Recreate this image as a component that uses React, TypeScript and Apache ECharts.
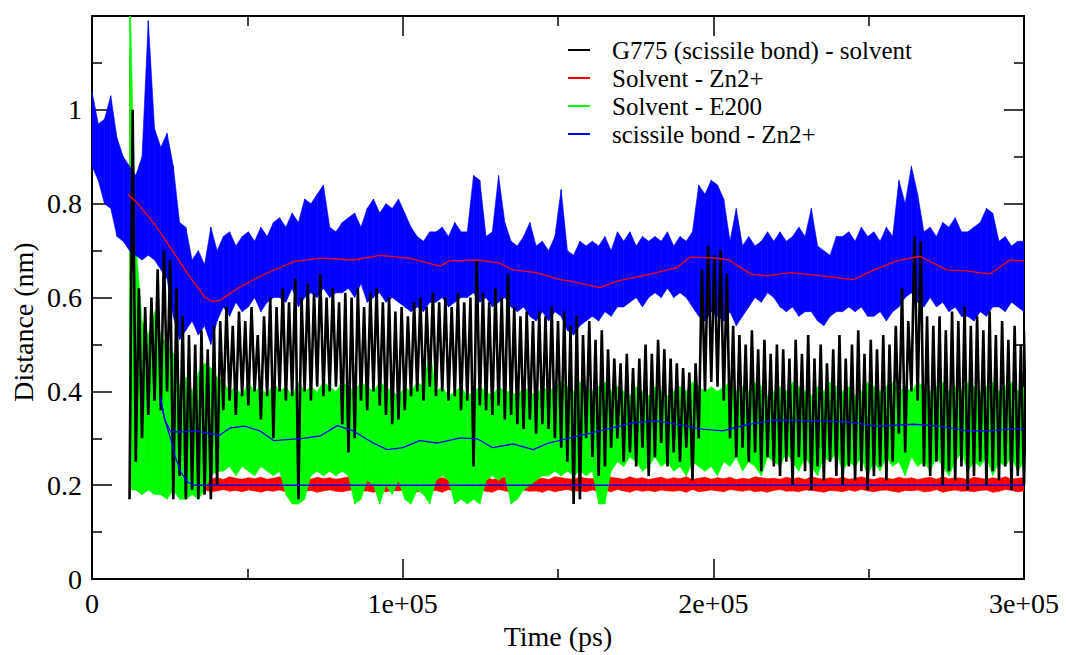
import React, { useEffect, useRef } from "react";
import * as echarts from "echarts";

// ---- data: 150 time bins over 0..3e5 ps, min/max of each noisy trace ----
// blue / black / green in hundredths of nm, red in thousandths of nm
const T_END = 300000;

const BLUE_HI = [
  104, 97, 98, 103, 94, 90, 88, 86, 90, 119,
  96, 92, 95, 88, 76, 75, 68, 70, 67, 75,
  70, 73, 74, 71, 73, 74, 72, 75, 73, 76,
  77, 75, 78, 76, 81, 80, 82, 84, 75, 74,
  76, 77, 78, 75, 79, 81, 78, 80, 79, 81,
  78, 75, 73, 72, 74, 74, 75, 73, 76, 74,
  74, 86, 85, 73, 74, 86, 76, 72, 71, 73,
  76, 71, 72, 70, 73, 83, 70, 69, 72, 71,
  72, 71, 73, 70, 74, 72, 74, 71, 73, 72,
  73, 72, 74, 71, 73, 72, 74, 84, 82, 85,
  84, 81, 72, 79, 71, 73, 71, 72, 74, 72,
  74, 72, 73, 75, 73, 79, 71, 70, 69, 73,
  73, 74, 72, 75, 73, 74, 72, 75, 73, 85,
  80, 88, 82, 74, 75, 73, 76, 75, 77, 74,
  74, 75, 76, 79, 78, 72, 73, 71, 72, 72,
];
const BLUE_LO = [
  88, 85, 80, 79, 73, 72, 70, 69, 68, 69,
  68, 66, 64, 56, 51, 53, 55, 52, 54, 50,
  55, 58, 56, 59, 57, 58, 60, 57, 59, 60,
  60, 59, 62, 58, 60, 61, 60, 62, 60, 61,
  61, 62, 60, 63, 59, 60, 61, 59, 60, 59,
  58, 57, 58, 57, 59, 59, 60, 58, 59, 60,
  60, 61, 59, 60, 58, 59, 60, 58, 57, 58,
  56, 55, 57, 55, 57, 56, 53, 52, 54, 55,
  56, 55, 57, 56, 58, 58, 59, 60, 58, 60,
  61, 60, 62, 60, 61, 60, 58, 56, 55, 57,
  56, 55, 57, 54, 56, 58, 60, 59, 61, 60,
  58, 57, 58, 56, 57, 57, 55, 54, 56, 57,
  57, 58, 57, 58, 56, 56, 57, 55, 57, 58,
  60, 61, 59, 58, 60, 58, 59, 57, 58, 56,
  56, 55, 57, 56, 58, 58, 57, 59, 58, 57,
];

const BLACK_HI = [
  null, null, null, null, null, null, 100, 62, 58, 60,
  66, 70, 68, 62, 56, 52, 50, 53, 49, 54,
  55, 58, 54, 57, 55, 58, 52, 56, 60, 58,
  62, 59, 64, 60, 63, 61, 65, 60, 62, 59,
  61, 60, 62, 58, 61, 62, 59, 60, 57, 58,
  56, 59, 60, 58, 61, 59, 60, 58, 61, 59,
  60, 68, 61, 59, 62, 60, 65, 58, 56, 57,
  55, 57, 56, 58, 55, 57, 54, 56, 52, 55,
  51, 53, 49, 47, 46, 48, 45, 47, 50, 48,
  51, 49, 47, 46, 45, 44, 46, 66, 71, 69,
  70, 65, 54, 52, 50, 53, 49, 51, 48, 50,
  49, 47, 51, 48, 52, 47, 50, 46, 49, 52,
  47, 50, 53, 48, 51, 49, 52, 50, 54, 62,
  55, 73, 72, 56, 54, 56, 53, 57, 55, 58,
  54, 56, 53, 57, 52, 55, 51, 54, 50, 53,
];
const BLACK_LO = [
  null, null, null, null, null, null, 17, 25, 30, 35,
  38, 36, 40, 17, 22, 17, 19, 17, 18, 17,
  20, 36, 38, 35, 39, 37, 40, 34, 39, 30,
  40, 38, 39, 17, 40, 38, 41, 39, 40, 41,
  33, 27, 30, 38, 36, 40, 37, 35, 33, 34,
  36, 39, 40, 38, 41, 39, 40, 38, 39, 36,
  38, 24, 37, 36, 35, 37, 34, 35, 33, 32,
  34, 31, 33, 32, 30, 28, 25, 16, 17, 30,
  26, 22, 24, 28, 30, 25, 27, 24, 28, 22,
  26, 29, 24, 27, 25, 28, 21, 30, 40, 42,
  41, 38, 30, 26, 28, 25, 27, 23, 26, 24,
  22, 25, 20, 26, 23, 19, 24, 21, 25, 22,
  20, 24, 21, 23, 19, 22, 24, 21, 25, 31,
  27, 40, 38, 24, 22, 25, 20, 23, 21, 24,
  19, 22, 25, 20, 23, 21, 24, 19, 22, 20,
];

const GREEN_HI = [
  null, null, null, null, null, null, 130, 72, 55, 52,
  57, 52, 50, 48, 41, 43, 40, 44, 46, 45,
  43, 42, 40, 41, 39, 42, 40, 41, 39, 42,
  40, 41, 39, 42, 40, 41, 40, 42, 41, 40,
  42, 41, 40, 42, 41, 40, 42, 41, 40, 39,
  41, 40, 42, 41, 49, 40, 41, 39, 40, 41,
  39, 40, 41, 40, 39, 41, 40, 40, 39, 41,
  40, 39, 41, 40, 41, 42, 41, 40, 42, 41,
  40, 41, 42, 40, 41, 40, 39, 41, 40, 39,
  41, 40, 39, 40, 41, 40, 42, 41, 40, 41,
  40, 41, 42, 40, 41, 40, 42, 41, 39, 40,
  41, 40, 42, 41, 40, 39, 41, 40, 42, 41,
  40, 41, 39, 40, 42, 41, 40, 41, 42, 40,
  41, 40, 42, 41, 40, 41, 42, 40, 41, 40,
  42, 41, 40, 41, 42, 40, 41, 42, 40, 41,
];
const GREEN_LO = [
  null, null, null, null, null, null, 19, 19, 18, 19,
  18, 18, 17, 19, 17, 17, 18, 17, 19, 22,
  23, 23, 24, 22, 24, 23, 22, 24, 23, 22,
  23, 18, 16, 16, 17, 22, 23, 22, 23, 22,
  23, 22, 16, 17, 21, 20, 16, 20, 18, 21,
  17, 16, 19, 18, 16, 21, 22, 21, 16, 17,
  16, 17, 16, 21, 22, 21, 22, 16, 17, 19,
  20, 21, 22, 22, 23, 22, 23, 22, 23, 22,
  23, 16, 16, 23, 25, 24, 26, 25, 23, 24,
  26, 24, 25, 23, 24, 22, 25, 24, 23, 24,
  22, 25, 24, 26, 23, 25, 24, 22, 26, 25,
  24, 27, 25, 23, 26, 24, 22, 26, 25, 27,
  23, 25, 24, 26, 22, 25, 23, 26, 24, 25,
  22, 26, 24, 25, 23, 26, 24, 22, 25, 27,
  23, 25, 24, 26, 22, 25, 24, 26, 23, 25,
];

const RED_HI = [
  null, null, null, null, null, null, 1120, 550, 500, 480,
  450, 420, 400, 350, 300, 250, 216, 213, 217, 214,
  216, 212, 218, 215, 213, 216, 214, 217, 213, 215,
  218, 214, 212, 216, 215, 213, 217, 214, 216, 213,
  215, 218, 212, 216, 214, 215, 217, 213, 216, 214,
  212, 217, 215, 213, 218, 214, 216, 212, 215, 217,
  213, 216, 214, 218, 212, 215, 217, 213, 216, 214,
  217, 213, 215, 212, 218, 216, 214, 213, 217, 215,
  214, 216, 212, 217, 215, 213, 218, 214, 216, 212,
  215, 217, 213, 216, 214, 218, 212, 215, 217, 213,
  216, 214, 217, 212, 215, 213, 218, 216, 214, 215,
  213, 217, 214, 216, 212, 218, 215, 213, 216, 214,
  217, 213, 215, 218, 214, 212, 216, 215, 213, 217,
  214, 216, 212, 215, 217, 213, 218, 214, 216, 215,
  212, 217, 215, 213, 216, 214, 218, 213, 215, 216,
];
const RED_LO = [
  null, null, null, null, null, null, 500, 300, 280, 250,
  220, 200, 190, 190, 188, 188, 189, 187, 190, 186,
  188, 191, 187, 189, 186, 190, 188, 185, 189, 187,
  190, 186, 188, 191, 187, 189, 185, 188, 190, 187,
  186, 189, 191, 187, 188, 185, 190, 186, 189, 188,
  191, 187, 186, 190, 188, 189, 185, 191, 187, 188,
  189, 186, 190, 187, 185, 191, 188, 186, 189, 190,
  187, 188, 185, 190, 186, 189, 191, 187, 188, 186,
  190, 187, 189, 186, 191, 188, 185, 190, 187, 189,
  186, 190, 188, 187, 189, 185, 191, 186, 188, 190,
  188, 186, 191, 189, 187, 190, 186, 188, 185, 189,
  191, 187, 188, 186, 190, 189, 187, 185, 189, 188,
  186, 190, 187, 191, 188, 186, 189, 190, 187, 185,
  189, 188, 190, 186, 187, 191, 185, 188, 190, 187,
  188, 186, 189, 190, 185, 187, 191, 189, 186, 188,
];

// running averages (time in ps, distance in nm)
const BLUE_AVG_T = [11500, 14800, 20300, 25400, 30900, 36400, 38600, 41200, 47000, 52500, 57600, 65300, 73700, 84000, 92700, 102000, 112000, 115000, 124000, 131000, 135500, 143000, 150600, 154000, 163500, 169000, 179600, 188000, 192500, 201000, 205000, 212000, 217000, 224700, 235000, 245000, 251000, 259000, 266500, 275000, 281600, 289000, 295500, 300000];
const BLUE_AVG_V = [0.82, 0.8, 0.755, 0.705, 0.65, 0.6, 0.592, 0.594, 0.62, 0.64, 0.656, 0.677, 0.684, 0.68, 0.69, 0.684, 0.667, 0.678, 0.68, 0.674, 0.659, 0.653, 0.638, 0.635, 0.621, 0.635, 0.65, 0.663, 0.686, 0.684, 0.68, 0.65, 0.646, 0.653, 0.646, 0.638, 0.657, 0.678, 0.688, 0.659, 0.657, 0.65, 0.68, 0.678];

const GREEN_AVG_T = [21900, 23400, 25300, 30000, 33000, 41200, 44400, 49000, 54000, 58600, 68000, 73400, 79000, 84000, 90500, 95000, 100000, 105500, 111000, 118600, 124000, 129000, 135500, 142000, 147000, 154000, 163500, 174000, 181600, 190000, 195500, 203000, 211500, 220000, 232000, 243000, 253000, 264600, 273000, 281600, 288000, 296500, 300000];
const GREEN_AVG_V = [0.39, 0.34, 0.314, 0.314, 0.316, 0.307, 0.322, 0.326, 0.316, 0.295, 0.3, 0.305, 0.327, 0.316, 0.29, 0.276, 0.28, 0.295, 0.29, 0.301, 0.299, 0.28, 0.288, 0.276, 0.29, 0.301, 0.316, 0.333, 0.337, 0.328, 0.32, 0.316, 0.33, 0.339, 0.337, 0.335, 0.326, 0.33, 0.326, 0.316, 0.316, 0.32, 0.32];

const RED_AVG_T = [21900, 23400, 25300, 26700, 28600, 30900, 33000, 60000, 100000, 150000, 200000, 250000, 300000];
const RED_AVG_V = [0.39, 0.34, 0.3, 0.263, 0.228, 0.206, 0.2, 0.2, 0.2, 0.2, 0.2, 0.2, 0.2];

const NAMES = ["G775 (scissile bond) - solvent", "Solvent - Zn2+", "Solvent - E200", "scissile bond - Zn2+"];
const X_TICKS = { min: 0, max: 300000, step: 100000 };
const Y_TICKS = { min: 0, max: 1.2, step: 0.2 };

const FONT = "Liberation Serif, Times New Roman, serif";

const binTime = (i: number, n: number) => (i * T_END) / (n - 1);

// zigzag trace: bin minimum then bin maximum
function trace(lo: (number | null)[], hi: (number | null)[], unit: number) {
  const out: number[][] = [];
  const half = T_END / (lo.length - 1) / 2;
  for (let i = 0; i < lo.length; i++) {
    const a = lo[i];
    const b = hi[i];
    if (a == null || b == null) continue;
    out.push([binTime(i, lo.length), a / unit]);
    out.push([binTime(i, lo.length) + half, b / unit]);
  }
  return out;
}

// min/max envelope segments: [t0, lo0, hi0, t1, lo1, hi1]
function envelope(lo: (number | null)[], hi: (number | null)[], unit: number) {
  const out: number[][] = [];
  for (let i = 0; i + 1 < lo.length; i++) {
    const a = lo[i], b = hi[i], c = lo[i + 1], d = hi[i + 1];
    if (a == null || b == null || c == null || d == null) continue;
    out.push([binTime(i, lo.length), a / unit, b / unit, binTime(i + 1, lo.length), c / unit, d / unit]);
  }
  return out;
}

function pairs(t: number[], v: number[]) {
  return t.map((x, i) => [x, v[i]]);
}

export default function App() {
  const ref = useRef<HTMLDivElement>(null);
  useEffect(() => {
    if (!ref.current) return;
    const chart = echarts.init(ref.current, undefined, { renderer: "svg" });
    const tickStyle = { color: "#000", width: 1.5 };
    const axisCommon = {
      axisLine: { show: true, onZero: false, lineStyle: { color: "#000", width: 2 } },
      axisTick: { show: true, inside: true, length: 20, lineStyle: tickStyle },
      minorTick: { show: true, splitNumber: 2, length: 10, lineStyle: tickStyle },
      splitLine: { show: false },
      minorSplitLine: { show: false },
    };
    const line = (name: string, data: number[][], color: string, width: number) => ({
      type: "line",
      name,
      data,
      showSymbol: false,
      symbol: "none",
      silent: true,
      clip: true,
      lineStyle: { color, width },
      itemStyle: { color },
      emphasis: { disabled: true },
    });
    const band = (name: string, lo: (number | null)[], hi: (number | null)[], unit: number, color: string) => ({
      type: "custom",
      name,
      data: envelope(lo, hi, unit),
      silent: true,
      clip: true,
      itemStyle: { color },
      encode: { x: [0, 3], y: [1, 2, 4, 5] },
      renderItem: (_params: any, api: any) => {
        const p0 = api.coord([api.value(0), api.value(1)]);
        const p1 = api.coord([api.value(3), api.value(4)]);
        const p2 = api.coord([api.value(3), api.value(5)]);
        const p3 = api.coord([api.value(0), api.value(2)]);
        return {
          type: "polygon",
          shape: { points: [p0, p1, p2, p3] },
          style: { fill: color, stroke: color, lineWidth: 0.6 },
        };
      },
    });
    chart.setOption({
      animation: false,
      backgroundColor: "#fff",
      grid: { left: 92, right: 42, top: 16, bottom: 70, containLabel: false },
      legend: {
        data: NAMES,
        orient: "vertical",
        left: 568,
        top: 36,
        padding: 0,
        itemGap: 0,
        itemWidth: 22,
        itemHeight: 2,
        icon: "rect",
        selectedMode: false,
        textStyle: { fontSize: 25, lineHeight: 28, fontFamily: FONT, color: "#000", padding: [0, 0, 0, 17] },
      },
      graphic: [
        {
          type: "text",
          x: 23,
          y: 322,
          rotation: Math.PI / 2,
          style: {
            text: "Distance (nm)",
            fontSize: 28,
            fontFamily: FONT,
            fill: "#000",
            align: "center",
            verticalAlign: "middle",
          },
        },
      ],
      xAxis: [
        {
          type: "value",
          position: "bottom",
          min: X_TICKS.min,
          max: X_TICKS.max,
          interval: X_TICKS.step,
          ...axisCommon,
          axisLabel: {
            color: "#000",
            fontSize: 28,
            fontFamily: FONT,
            margin: 10,
            formatter: (v: number) => (v === 0 ? "0" : `${v / 100000}e+05`),
          },
          name: "Time (ps)",
          nameLocation: "middle",
          nameGap: 38,
          nameTextStyle: { color: "#000", fontSize: 28, fontFamily: FONT },
        },
        {
          type: "value",
          position: "top",
          min: X_TICKS.min,
          max: X_TICKS.max,
          interval: X_TICKS.step,
          ...axisCommon,
          axisLabel: { show: false },
        },
      ],
      yAxis: [
        {
          type: "value",
          position: "left",
          min: Y_TICKS.min,
          max: Y_TICKS.max,
          interval: Y_TICKS.step,
          ...axisCommon,
          axisLabel: {
            color: "#000",
            fontSize: 28,
            fontFamily: FONT,
            margin: 10,
            showMaxLabel: false,
            formatter: (v: number) => String(+v.toFixed(1)),
          },
        },
        {
          type: "value",
          position: "right",
          min: Y_TICKS.min,
          max: Y_TICKS.max,
          interval: Y_TICKS.step,
          ...axisCommon,
          axisLabel: { show: false },
        },
      ],
      series: [
        line(NAMES[0], trace(BLACK_LO, BLACK_HI, 100), "#000000", 2.6),
        band(NAMES[1], RED_LO, RED_HI, 1000, "#ff0000"),
        band(NAMES[2], GREEN_LO, GREEN_HI, 100, "#00ff00"),
        band(NAMES[3], BLUE_LO, BLUE_HI, 100, "#0000ff"),
        line("avg-E200", pairs(GREEN_AVG_T, GREEN_AVG_V), "#0000ff", 1.3),
        line("avg-Zn", pairs(RED_AVG_T, RED_AVG_V), "#0000ff", 1.3),
        line("avg-bond", pairs(BLUE_AVG_T, BLUE_AVG_V), "#ff0000", 1.3),
      ],
    });
    return () => chart.dispose();
  }, []);
  return (
    <div
      ref={ref}
      style={{ position: "fixed", left: 0, top: 0, width: 1066, height: 655, background: "#fff" }}
    />
  );
}
